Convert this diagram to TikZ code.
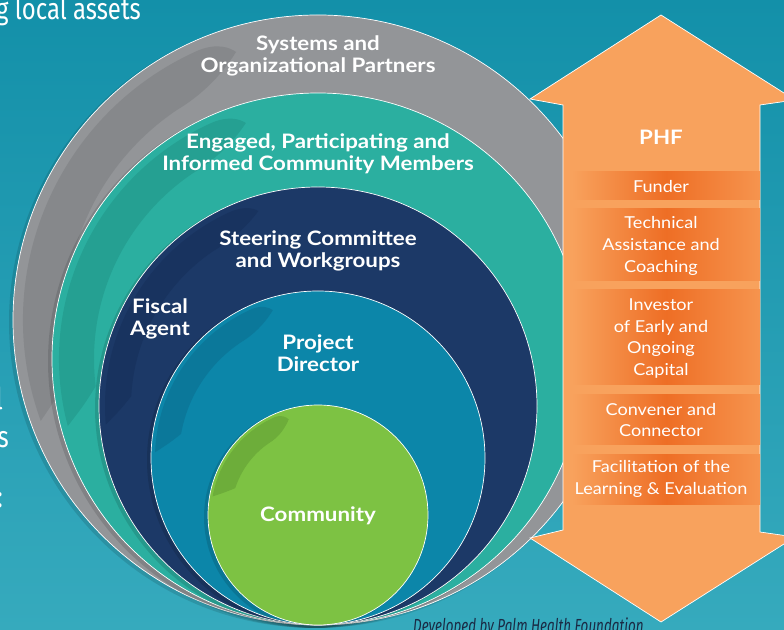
\documentclass[tikz,border=0pt]{standalone}
\usepackage{fontspec}
\setmainfont{Lato}
\newfontfamily\widefont[FakeStretch=1.12]{Lato}
\newfontfamily\armfont[FakeStretch=1.10]{Lato}
\newfontfamily\condfont[FakeStretch=0.80]{Fira Sans}
\newfontfamily\credfont[FakeStretch=0.71]{Fira Sans}
\usetikzlibrary{calc}
\definecolor{bgTop}{HTML}{1390A9}
\definecolor{bgBot}{HTML}{36AABD}
\definecolor{grayC}{HTML}{939598}
\definecolor{grayD}{HTML}{86888B}
\definecolor{tealC}{HTML}{2BAFA0}
\definecolor{tealD}{HTML}{25A092}
\definecolor{navyC}{HTML}{1C3967}
\definecolor{navyD}{HTML}{18335F}
\definecolor{blueC}{HTML}{0C86A9}
\definecolor{blueD}{HTML}{0B789A}
\definecolor{greenC}{HTML}{7DC243}
\definecolor{greenD}{HTML}{6DAD3A}
\definecolor{orangeC}{HTML}{F8A25D}
\definecolor{orangeD}{HTML}{EE6E25}
\definecolor{orangeR}{HTML}{F6944E}
\definecolor{devText}{HTML}{1A2B45}
\newcommand\myleaf[7]{%
  \begin{scope}[shift={(#1,#2)}]
  \fill[#7] (#6:{#3-#4}) arc[start angle=#6, end angle=114, radius={#3-#4}]
    .. controls (110:{#3-#4}) and (108:{#3-#4-0.2*#5}) .. (107:{#3-#4-0.35*#5})
    .. controls (112:{#3-#4-0.8*#5}) and (118:{#3-#4-#5}) .. (124:{#3-#4-#5})
    arc[start angle=124, end angle={#6-8}, radius={#3-#4-#5}]
    .. controls ({#6-4}:{#3-#4-0.6*#5}) .. cycle;
  \end{scope}}
\tikzset{
  disc/.style={circle, inner sep=0pt, draw=white, line width=0.7pt},
  discshadow/.style={fill=black, opacity=0.12},
  ringlabel/.style={text=white, font=\widefont\bfseries\fontsize{20}{22.5}\selectfont, align=center, inner sep=0pt},
  armtext/.style={text=white, font=\armfont\fontsize{16.5}{21.7}\selectfont, align=center, inner sep=0pt},
  band/.style={left color=orangeC, right color=orangeR, middle color=orangeD},
  arrowshape/.style={fill=orangeC, draw=white, line width=0.7pt, line join=miter},
  edgetext/.style={text=white, font=\condfont\fontsize{30}{30}\selectfont, inner sep=0pt}
}
\begin{document}
\begin{tikzpicture}[x=1bp,y=1bp]
\useasboundingbox (0,0) rectangle (784,630);
\clip (0,0) rectangle (784,630);
\shade[top color=bgTop, bottom color=bgBot] (0,0) rectangle (784,630);

% edge texts
\node[edgetext, anchor=base west] (assets) at (-4,610) {g local assets};
\node[edgetext, anchor=base east] (fragA) at (3,220) {l};
\node[edgetext, anchor=base east] (fragB) at (9,182) {s};
\node[edgetext, anchor=base east] (fragC) at (3,122) {:};

% gray
\fill[discshadow] (315,308) circle[radius=306];
\node[disc, fill=grayC, minimum size=610bp] (gray) at (318,310) {};
\myleaf{318}{310}{305}{10}{42}{200}{grayD}
% teal
\fill[discshadow] (315,269) circle[radius=267];
\node[disc, fill=tealC, minimum size=532bp] (teal) at (318,271) {};
\myleaf{318}{271}{266}{7}{35}{195}{tealD}
% navy
\fill[discshadow] (315,222) circle[radius=220];
\node[disc, fill=navyC, minimum size=438bp] (navy) at (318,224) {};
\myleaf{318}{224}{219}{6}{26}{185}{navyD}
% blue
\fill[discshadow] (315,170) circle[radius=168];
\node[disc, fill=blueC, minimum size=334bp] (blue) at (318,172) {};
\myleaf{318}{172}{167}{4}{24}{178}{blueD}
% green
\fill[discshadow] (315,113) circle[radius=111];
\node[disc, fill=greenC, minimum size=220bp] (green) at (318,115) {};
\myleaf{318}{115}{110}{3}{20}{170}{greenD}

% ring labels
\node[ringlabel] (sys) at (318,574) {Systems and\\Organizational Partners};
\node[ringlabel] (eng) at (318,476) {Engaged, Participating and\\Informed Community Members};
\node[ringlabel] (steer) at (318,379) {Steering Committee\\and Workgroups};
\node[ringlabel] (fiscal) at (160,311) {Fiscal\\Agent};
\node[ringlabel] (pd) at (318,277) {Project\\Director};
\node[ringlabel] (comm) at (318,114) {Community};

% PHF double arrow
\draw[arrowshape] (661,615) -- (795,530) -- (760,525) -- (760,98) -- (795,93)
  -- (661,8) -- (530,92) -- (563,100) -- (563,525) -- (530,531) -- cycle;
\shade[band] (572,430) rectangle (760,458);
\shade[band] (572,349) rectangle (760,421);
\shade[band] (572,245) rectangle (760,340);
\shade[band] (572,185) rectangle (760,235);
\shade[band] (572,125) rectangle (760,175);

\node[text=white, font=\widefont\bfseries\fontsize{20}{24}\selectfont, inner sep=0pt] (phf) at (661,493) {PHF};
\node[armtext] (funder) at (661,443) {Funder};
\node[armtext] (tech) at (661,384) {Technical\\Assistance and\\Coaching};
\node[armtext] (invest) at (661,291.5) {Investor\\of Early and\\Ongoing\\Capital};
\node[armtext] (conv) at (661,210) {Convener and\\Connector};
\node[armtext] (facil) at (661,151) {Facilitation of the\\Learning \& Evaluation};

% credit
\node[text=devText, font=\credfont\itshape\fontsize{19}{19}\selectfont, anchor=base west, inner sep=0pt] (credit) at (413,-3) {Developed by Palm Health Foundation};
\end{tikzpicture}
\end{document}
